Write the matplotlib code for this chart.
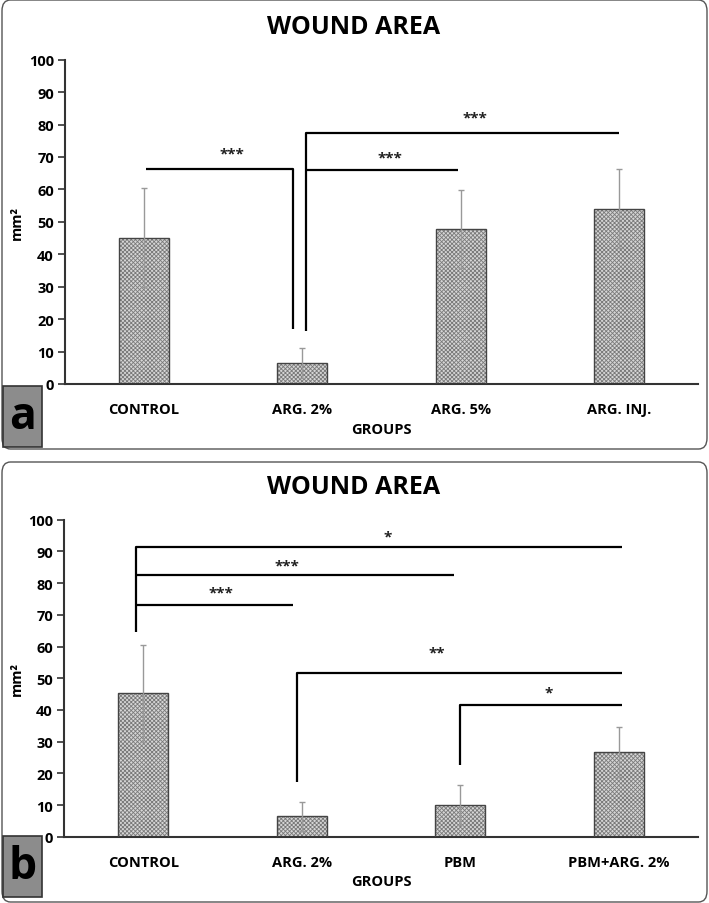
import matplotlib.pyplot as plt
from matplotlib.patches import FancyBboxPatch, Rectangle

plt.rcParams['font.family'] = ['Open Sans', 'DejaVu Sans']
plt.rcParams['hatch.linewidth'] = 0.6

# panel a data
groups_a = ['CONTROL', 'ARG. 2%', 'ARG. 5%', 'ARG. INJ.']
means_a = [45.1, 6.4, 47.8, 54.1]
sd_a = [15.2, 4.6, 12.0, 12.2]

# panel b data
groups_b = ['CONTROL', 'ARG. 2%', 'PBM', 'PBM+ARG. 2%']
means_b = [45.2, 6.4, 10.1, 26.8]
sd_b = [15.2, 4.5, 6.3, 7.9]

yticks = [0, 10, 20, 30, 40, 50, 60, 70, 80, 90, 100]

# brackets: list of polylines (x, y) in data coords, and star labels (x, y, text)
brackets_a = [
    ([0.01, 0.943, 0.943], [66.3, 66.3, 17.0]),
    ([1.02, 1.02, 3.0], [16.4, 77.5, 77.5]),
    ([1.02, 1.985], [66.0, 66.0]),
]
stars_a = [(0.556, 71.0, '***'), (2.09, 82.3, '***'), (1.553, 70.0, '***')]

brackets_b = [
    ([-0.046, -0.046, 3.02], [64.7, 91.3, 91.3]),
    ([-0.046, 1.96], [82.5, 82.5]),
    ([-0.046, 0.945], [73.2, 73.2]),
    ([0.967, 0.967, 3.02], [17.2, 51.5, 51.5]),
    ([1.996, 1.996, 3.02], [22.7, 41.6, 41.6]),
]
stars_b = [(1.544, 94.8, '*'), (0.907, 85.7, '***'), (0.49, 76.9, '***'),
           (1.855, 58.0, '**'), (2.56, 45.4, '*')]

W, H = 709, 904
fig = plt.figure(figsize=(W / 100, H / 100), dpi=100)


def px_box(x0, y0, x1, y1):
    # pixel box (top-left origin) -> figure fraction rect
    return [x0 / W, 1 - y1 / H, (x1 - x0) / W, (y1 - y0) / H]


def draw_panel(rect, frame, letter_box, title_y, letter, groups, means, sds, brackets, stars):
    fx = frame
    fig.patches.append(FancyBboxPatch((fx[0] / W, 1 - fx[3] / H), (fx[2] - fx[0]) / W, (fx[3] - fx[1]) / H,
                                      boxstyle='round,pad=0,rounding_size=0.012', transform=fig.transFigure,
                                      facecolor='white', edgecolor='#555555', linewidth=1.0, zorder=-5))
    ax = fig.add_axes(px_box(*rect))
    ax.set_facecolor('none')
    x = range(len(groups))
    ax.bar(x, means, width=0.316, color='#d6d6d6', edgecolor='#7a7a7a', hatch='xxxxxxxx', linewidth=0, zorder=2)
    ax.bar(x, means, width=0.316, fill=False, edgecolor='#444444', linewidth=1.0, zorder=3)
    ax.errorbar(x, means, yerr=sds, fmt='none', ecolor='#999999', elinewidth=1.0, capsize=2, capthick=1.0, zorder=4)
    for bx, by in brackets:
        ax.plot(bx, by, color='black', linewidth=1.6, zorder=5, solid_capstyle='butt')
    for sx, sy, s in stars:
        ax.text(sx, sy, s, ha='center', va='center', fontsize=11, fontweight='bold', color='#222222')
    ax.set_xlim(-0.5, 3.5)
    ax.set_ylim(0, 100)
    ax.set_yticks(yticks)
    ax.set_xticks(list(x))
    ax.set_xticklabels(groups, fontsize=10.5, fontweight='bold')
    for lab in ax.get_yticklabels():
        lab.set_fontsize(10.5)
        lab.set_fontweight('bold')
    ax.tick_params(axis='x', length=0, pad=13)
    ax.tick_params(axis='y', length=5, width=1.2, color='#333333', pad=3)
    for s in ['top', 'right']:
        ax.spines[s].set_visible(False)
    for s in ['left', 'bottom']:
        ax.spines[s].set_color('#333333')
        ax.spines[s].set_linewidth(1.5)
    ax.set_ylabel('mm²', fontsize=10.5, fontweight='bold')
    ax.yaxis.set_label_coords((24 - rect[0]) / (rect[2] - rect[0]), 0.5)
    ax.set_xlabel('GROUPS', fontsize=10.5, fontweight='bold', labelpad=4)
    fig.text(354 / W, 1 - title_y / H, 'WOUND AREA', ha='center', va='center', fontsize=18, fontweight='bold')
    lb = letter_box
    fig.patches.append(Rectangle((lb[0] / W, 1 - lb[3] / H), (lb[2] - lb[0]) / W, (lb[3] - lb[1]) / H,
                                 transform=fig.transFigure, facecolor='#8c8c8c', edgecolor='#333333',
                                 linewidth=1.2, zorder=5))
    fig.text((lb[0] + lb[2]) / 2 / W, 1 - (lb[1] + lb[3]) / 2 / H, letter, ha='center', va='center',
             fontsize=32, fontweight='bold', zorder=6)
    return ax


draw_panel((65, 60.7, 698, 385), (2, 1, 707, 450), (3, 387, 42, 448), 28, 'a',
           groups_a, means_a, sd_a, brackets_a, stars_a)
draw_panel((64, 520.7, 698, 837.7), (2, 463, 707, 903), (3, 837, 42, 898), 488, 'b',
           groups_b, means_b, sd_b, brackets_b, stars_b)

fig.savefig('out.png', dpi=100)
